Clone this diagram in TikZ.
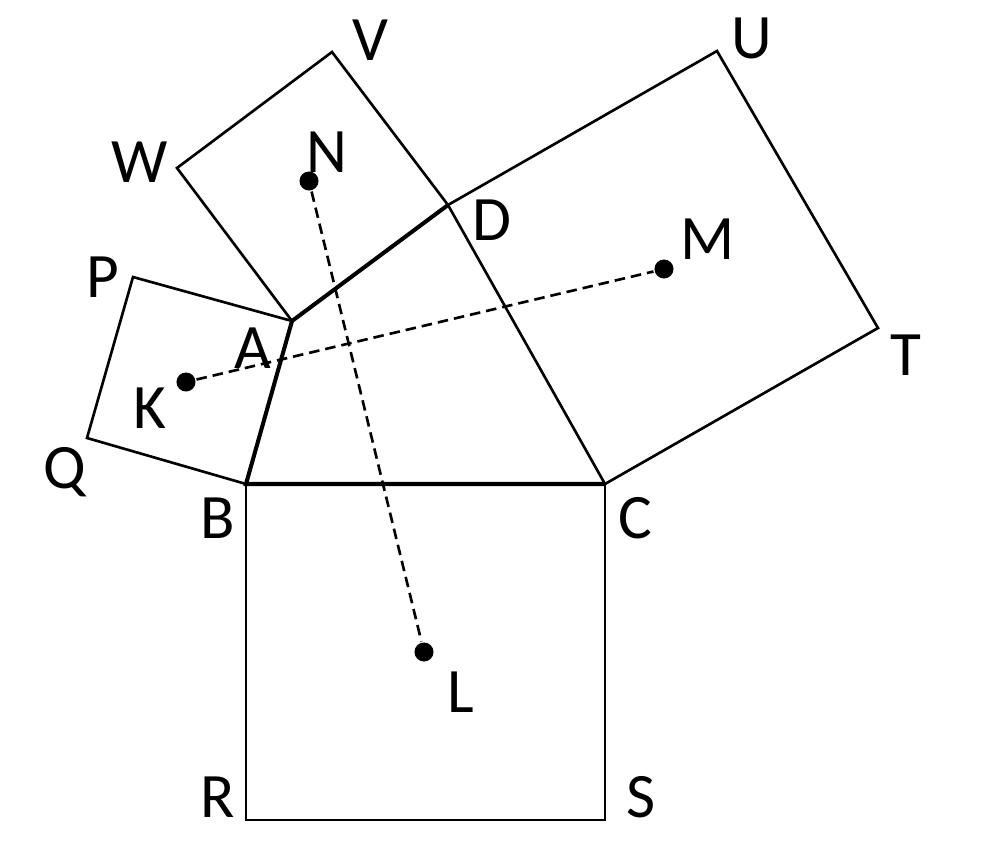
\documentclass[tikz,border=0pt]{standalone}
\usepackage{fontspec}
\setmainfont{Carlito}

\begin{document}
\begin{tikzpicture}[x=0.01cm, y=-0.01cm, line width=0.75pt, line join=miter,
  letter/.style={font=\fontsize{18}{20}\selectfont, inner sep=0pt},
  centre dot/.style={circle, fill, inner sep=0pt, minimum size=0.19cm},
  side/.style={line width=1.15pt},
  join line/.style={dash pattern=on 3pt off 1.7pt, line width=0.75pt}]
  \useasboundingbox (0,0) rectangle (996,842);

  % quadrilateral
  \coordinate (A) at (292,321);
  \coordinate (B) at (246,484);
  \coordinate (C) at (605,484);
  \coordinate (D) at (448,205);

  % outer corners of the squares
  \coordinate (P) at (133,277);
  \coordinate (Q) at (87,438);
  \coordinate (R) at (246,820);
  \coordinate (S) at (605,820);
  \coordinate (T) at (878,328);
  \coordinate (U) at (717,51);
  \coordinate (V) at (332,52);
  \coordinate (W) at (177,168);

  \draw (A) -- (P) -- (Q) -- (B);
  \draw (B) -- (R) -- (S) -- (C);
  \draw (C) -- (T) -- (U) -- (D);
  \draw (D) -- (V) -- (W) -- (A);
  \draw (C) -- (D);
  \draw [side] (D) -- (A) -- (B) -- (C);

  % centres
  \node [centre dot] (K) at (186,382) {};
  \node [centre dot] (L) at (424,652) {};
  \node [centre dot] (M) at (664,269) {};
  \node [centre dot] (N) at (309,181) {};

  \draw [join line] (K) -- (M);
  \draw [join line] (N) -- (L);

  % letters
  \node [letter] (lA) at (253,348) {A};
  \node [letter] (lB) at (218,518) {B};
  \node [letter] (lC) at (635,518) {C};
  \node [letter] (lD) at (492,220) {D};
  \node [letter] (lK) at (150,408) {K};
  \node [letter] (lL) at (461,692) {L};
  \node [letter] (lM) at (708,239) {M};
  \node [letter] (lN) at (327,152) {N};
  \node [letter] (lP) at (103,277) {P};
  \node [letter] (lQ) at (65,472) {Q};
  \node [letter] (lR) at (218,797) {R};
  \node [letter] (lS) at (641,797) {S};
  \node [letter] (lT) at (906,355) {T};
  \node [letter] (lU) at (752,38) {U};
  \node [letter] (lV) at (370,40) {V};
  \node [letter] (lW) at (140,162) {W};
\end{tikzpicture}
\end{document}
